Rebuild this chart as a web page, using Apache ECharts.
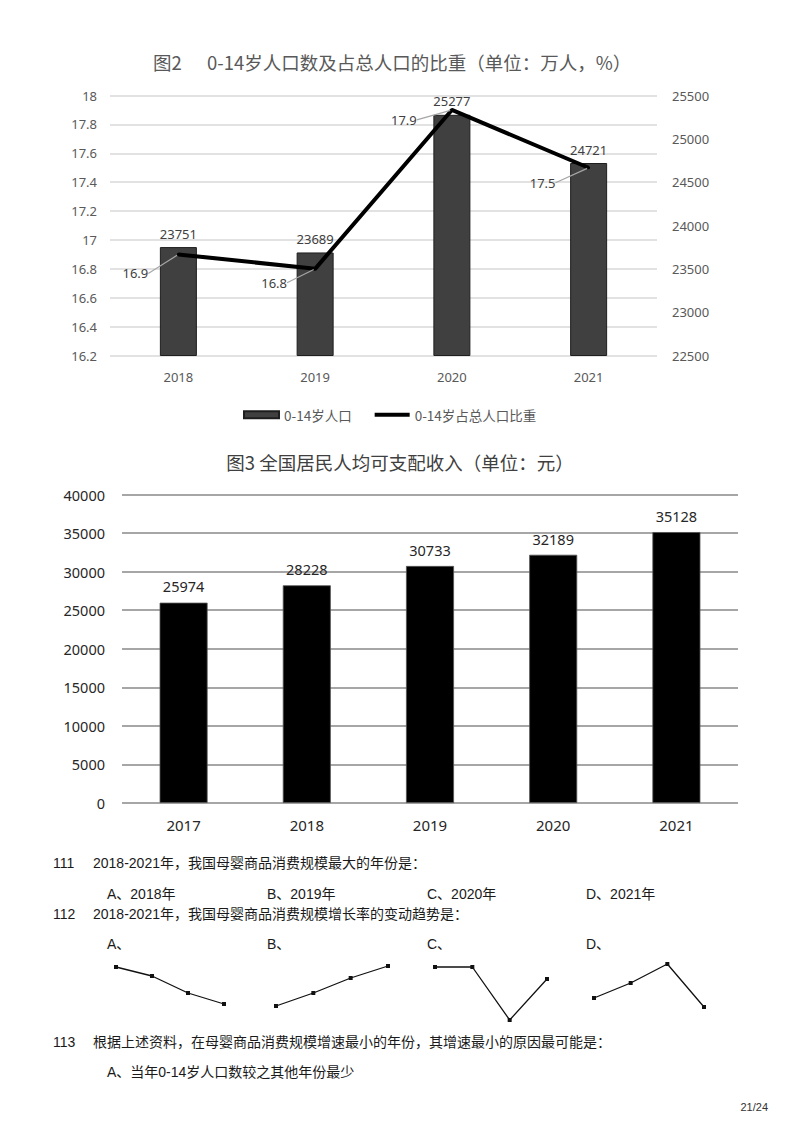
<!DOCTYPE html>
<html><head><meta charset="utf-8">
<script src="https://cdn.jsdelivr.net/npm/echarts@6.0.0/dist/echarts.min.js"></script>
<style>html,body{margin:0;padding:0;background:#fff}#c{width:800px;height:1132px}</style>
</head><body><div id="c"></div>
<script>
// ---- data ----
const popYears = ['2018', '2019', '2020', '2021'];
const popChildren = [23751, 23689, 25277, 24721];   // 万人 (right axis)
const popShare = [16.9, 16.8, 17.9, 17.5];          // % (left axis)
const incomeYears = ['2017', '2018', '2019', '2020', '2021'];
const incomeValues = [25974, 28228, 30733, 32189, 35128];
const sketchX = ['1', '2', '3', '4'];
const sketchA = [53, 44, 27, 16];
const sketchB = [14, 27, 42, 54];
const sketchC = [53, 53, 0, 41];
const sketchD = [22, 37, 56, 13];

const title2Tag = '图2';
const title2 = '0-14岁人口数及占总人口的比重（单位：万人，%）';
const title3 = '图3 全国居民人均可支配收入（单位：元）';
const legendNames = ['0-14岁人口', '0-14岁占总人口比重'];
const q111 = ['111', '2018-2021年，我国母婴商品消费规模最大的年份是：'];
const q111opts = ['A、2018年', 'B、2019年', 'C、2020年', 'D、2021年'];
const q112 = ['112', '2018-2021年，我国母婴商品消费规模增长率的变动趋势是：'];
const q112opts = ['A、', 'B、', 'C、', 'D、'];
const q113 = ['113', '根据上述资料，在母婴商品消费规模增速最小的年份，其增速最小的原因最可能是：'];
const q113optA = 'A、当年0-14岁人口数较之其他年份最少';
const pageNo = '21/24';

// ---- styles / layout ----
const shareLabelOffsets = [[-43, 19], [-41, 14], [-48, 10], [-46, 15]];
const numFont = '"Noto Sans", "Noto Sans CJK SC", sans-serif';
const qFont = '"Liberation Sans", "Noto Sans CJK SC", sans-serif';
const cjkFont = '"Noto Sans CJK SC", sans-serif';
const optX = [107, 267, 427, 586];
const sketchGrids = [[116, 108], [276, 112], [435, 112], [594, 110]];
const plain = v => String(v);

function txt(text, x, y, opt) {
  opt = opt || {};
  return {
    type: 'text', x: x, y: y, silent: true,
    style: {
      text: text, fill: opt.color || '#1a1a1a',
      font: (opt.weight || 'normal') + ' ' + (opt.size || 14) + 'px ' + (opt.family || qFont),
      textAlign: opt.align || 'left', textVerticalAlign: 'middle'
    }
  };
}

const graphics = [
  txt(title2Tag, 153, 62, {size: 18.5, color: '#595959', family: cjkFont}),
  txt(title2, 207, 62, {size: 18.5, color: '#595959', family: cjkFont}),
  txt(title3, 400, 462, {size: 18.5, color: '#404040', family: cjkFont, align: 'center'}),
  txt(q111[0], 53, 863), txt(q111[1], 93, 863),
  txt(q112[0], 53, 914), txt(q112[1], 93, 914),
  txt(q113[0], 53, 1042), txt(q113[1], 93, 1042),
  txt(q113optA, 107, 1072),
  txt(pageNo, 768, 1107, {size: 11, align: 'right', color: '#333'})
];
q111opts.forEach((t, i) => graphics.push(txt(t, optX[i], 894)));
q112opts.forEach((t, i) => graphics.push(txt(t, optX[i], 944)));

const grids = [
  {left: 110, top: 95.5, width: 547, height: 260},
  {left: 122, top: 494.5, width: 616, height: 308.5}
];
sketchGrids.forEach(g => grids.push({left: g[0], top: 964, width: g[1], height: 56}));

const xAxes = [
  {type: 'category', gridIndex: 0, data: popYears, axisLine: {show: false}, axisTick: {show: false},
   axisLabel: {color: '#595959', fontSize: 13, fontFamily: numFont, margin: 15}},
  {type: 'category', gridIndex: 1, data: incomeYears, axisLine: {show: false}, axisTick: {show: false},
   axisLabel: {color: '#262626', fontSize: 15, fontFamily: numFont, margin: 14}}
];
const yAxes = [
  {type: 'value', gridIndex: 0, position: 'left', min: 16.2, max: 18, interval: 0.2,
   axisLine: {show: false}, axisTick: {show: false},
   axisLabel: {color: '#595959', fontSize: 13, fontFamily: numFont, margin: 13},
   splitLine: {lineStyle: {color: '#d9d9d9', width: 1.5}}},
  {type: 'value', gridIndex: 0, position: 'right', min: 22500, max: 25500, interval: 500,
   axisLine: {show: false}, axisTick: {show: false},
   axisLabel: {color: '#595959', fontSize: 13, fontFamily: numFont, margin: 15, formatter: plain},
   splitLine: {show: false}},
  {type: 'value', gridIndex: 1, min: 0, max: 40000, interval: 5000,
   axisLine: {show: false}, axisTick: {show: false},
   axisLabel: {color: '#262626', fontSize: 14.5, fontFamily: numFont, margin: 17, formatter: plain},
   splitLine: {lineStyle: {color: '#a6a6a6', width: 2}}}
];
const series = [
  {name: legendNames[0], type: 'bar', xAxisIndex: 0, yAxisIndex: 1, data: popChildren, barWidth: 37,
   itemStyle: {color: '#404040', borderColor: '#1e1e1e', borderWidth: 1},
   label: {show: true, position: 'top', distance: 7, color: '#404040', fontSize: 13, fontFamily: numFont}},
  {name: legendNames[1], type: 'line', xAxisIndex: 0, yAxisIndex: 0, data: popShare, z: 5,
   symbol: 'circle', symbolSize: 3, itemStyle: {color: '#000'},
   lineStyle: {color: '#000', width: 4},
   label: {show: true, position: 'inside', color: '#404040', fontSize: 13, fontFamily: numFont},
   labelLine: {show: true, lineStyle: {color: '#a6a6a6', width: 1.2}},
   labelLayout: function (p) { const o = shareLabelOffsets[p.dataIndex]; return {dx: o[0], dy: o[1]}; }},
  {name: 'income', type: 'bar', xAxisIndex: 1, yAxisIndex: 2, data: incomeValues, barWidth: 48,
   itemStyle: {color: '#000', borderColor: '#555', borderWidth: 0.8},
   label: {show: true, position: 'top', distance: 9, color: '#262626', fontSize: 14.5, fontFamily: numFont}}
];
[sketchA, sketchB, sketchC, sketchD].forEach((d, i) => {
  xAxes.push({type: 'category', gridIndex: 2 + i, data: sketchX, boundaryGap: false, show: false});
  yAxes.push({type: 'value', gridIndex: 2 + i, min: 0, max: 56, show: false, splitLine: {show: false}});
  series.push({name: 'sketch' + i, type: 'line', xAxisIndex: 2 + i, yAxisIndex: 3 + i, data: d,
    symbol: 'rect', symbolSize: 4, itemStyle: {color: '#111'}, lineStyle: {color: '#111', width: 1.3}});
});

const chart = echarts.init(document.getElementById('c'), null, {renderer: 'svg', width: 800, height: 1132});
chart.setOption({
  animation: false,
  backgroundColor: '#fff',
  grid: grids, xAxis: xAxes, yAxis: yAxes, series: series,
  legend: {left: 238, top: 403, itemWidth: 35, itemHeight: 7, itemGap: 21,
    data: [{name: legendNames[0], icon: 'rect'},
           {name: legendNames[1], itemStyle: {opacity: 0}, lineStyle: {width: 4, color: '#000'}}],
    textStyle: {color: '#595959', fontSize: 13.5, fontFamily: cjkFont}},
  graphic: graphics
});
</script></body></html>
